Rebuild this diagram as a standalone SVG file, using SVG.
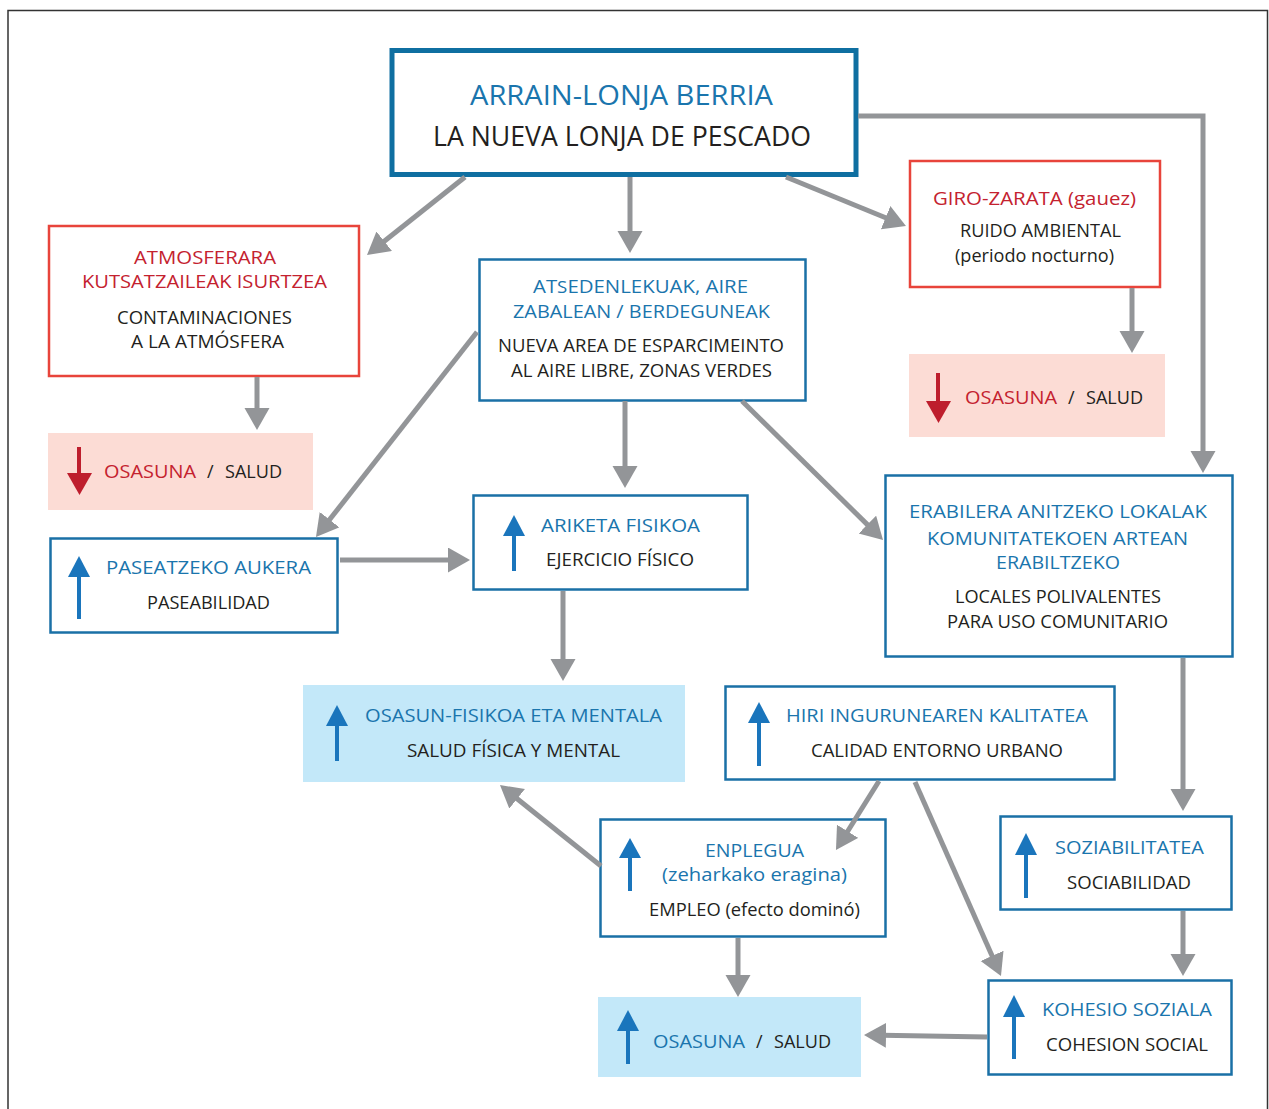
<svg xmlns="http://www.w3.org/2000/svg" width="1269" height="1109" viewBox="0 0 1269 1109">
<defs>
<style>
text{font-family:"Open Sans","Noto Sans","Liberation Sans",sans-serif;font-size:18px;}
.b{fill:#1a75ad;}
.r{fill:#c4222f;}
.k{fill:#231f20;}
.m{text-anchor:middle;}
.bx{fill:#fff;stroke:#1a70a6;stroke-width:2.5;}
.rx{fill:#fff;stroke:#e8443b;stroke-width:2.5;}
.lb{fill:#c3e8f9;}
.pk{fill:#fcdcd5;}
.con{fill:none;stroke:#939598;stroke-width:5;marker-end:url(#ah);}
.ua{fill:#1a75bc;}
.ual{stroke:#1a75bc;stroke-width:4;}
.da{fill:#be1e2d;}
.dal{stroke:#be1e2d;stroke-width:4;}
</style>
<marker id="ah" markerUnits="userSpaceOnUse" markerWidth="24" markerHeight="26" refX="4" refY="12.5" orient="auto">
<path d="M0,0 L22,12.5 L0,25 z" fill="#939598"/>
</marker>
</defs>
<rect width="1269" height="1109" fill="#fff"/>
<path d="M8,1109 V10.5 H1267.5 V1109" fill="none" stroke="#333" stroke-width="1.5"/>

<g id="top">
<rect x="392" y="50.5" width="464" height="124" fill="#fff" stroke="#0f6fa1" stroke-width="5"/>
<text class="b m" x="621.5" y="105" style="font-size:28px" textLength="303" lengthAdjust="spacingAndGlyphs">ARRAIN-LONJA BERRIA</text>
<text class="k m" x="622" y="146" style="font-size:28px" textLength="378" lengthAdjust="spacingAndGlyphs">LA NUEVA LONJA DE PESCADO</text>
</g>

<g id="atmos">
<rect class="rx" x="49" y="226" width="310" height="150"/>
<text class="r m" x="205" y="264" textLength="142" lengthAdjust="spacingAndGlyphs">ATMOSFERARA</text>
<text class="r m" x="204.5" y="288" textLength="245" lengthAdjust="spacingAndGlyphs">KUTSATZAILEAK ISURTZEA</text>
<text class="k m" x="204.5" y="324" textLength="175" lengthAdjust="spacingAndGlyphs">CONTAMINACIONES</text>
<text class="k m" x="207.5" y="348" textLength="153" lengthAdjust="spacingAndGlyphs">A LA ATMÓSFERA</text>
</g>

<g id="salud1">
<rect class="pk" x="48" y="433" width="265" height="77"/>
<line class="dal" x1="79" y1="447" x2="79" y2="476"/>
<polygon class="da" points="67,473 92,473 79.5,495"/>
<text class="r" x="104" y="478" textLength="92" lengthAdjust="spacingAndGlyphs">OSASUNA</text>
<text class="k" x="207" y="478">/</text>
<text class="k" x="225" y="478" textLength="57" lengthAdjust="spacingAndGlyphs">SALUD</text>
</g>

<g id="giro">
<rect class="rx" x="910" y="161" width="250" height="126"/>
<text class="r m" x="1034.5" y="205" textLength="203" lengthAdjust="spacingAndGlyphs">GIRO-ZARATA (gauez)</text>
<text class="k m" x="1040.5" y="237" textLength="161" lengthAdjust="spacingAndGlyphs">RUIDO AMBIENTAL</text>
<text class="k m" x="1034.5" y="262" textLength="159" lengthAdjust="spacingAndGlyphs">(periodo nocturno)</text>
</g>

<g id="salud2">
<rect class="pk" x="909" y="354" width="256" height="83"/>
<line class="dal" x1="938" y1="373" x2="938" y2="404"/>
<polygon class="da" points="926,401 951,401 938.5,423"/>
<text class="r" x="965" y="404" textLength="92" lengthAdjust="spacingAndGlyphs">OSASUNA</text>
<text class="k" x="1068" y="404">/</text>
<text class="k" x="1086" y="404" textLength="57" lengthAdjust="spacingAndGlyphs">SALUD</text>
</g>

<g id="atsed">
<rect class="bx" x="479.5" y="259.5" width="326" height="141"/>
<text class="b m" x="640.5" y="293" textLength="215" lengthAdjust="spacingAndGlyphs">AT<tspan style="font-size:16.5px">S</tspan>EDENLEKUAK, AIRE</text>
<text class="b m" x="641.5" y="318" textLength="257" lengthAdjust="spacingAndGlyphs">ZABALEAN / BERDEGUNEAK</text>
<text class="k m" x="641" y="352" textLength="286" lengthAdjust="spacingAndGlyphs">NUEVA AREA DE ESPARCIMEINTO</text>
<text class="k m" x="641.5" y="377" textLength="261" lengthAdjust="spacingAndGlyphs">AL AIRE LIBRE, ZONAS VERDES</text>
</g>

<g id="pasea">
<rect class="bx" x="50.5" y="538.5" width="287" height="94"/>
<line class="ual" x1="79" y1="572" x2="79" y2="619"/>
<polygon class="ua" points="68,577 90,577 79,556"/>
<text class="b m" x="208.5" y="574" textLength="205" lengthAdjust="spacingAndGlyphs">PASEATZEKO AUKERA</text>
<text class="k m" x="208.5" y="609" textLength="123" lengthAdjust="spacingAndGlyphs">PASEABILIDAD</text>
</g>

<g id="ariketa">
<rect class="bx" x="473.5" y="495.5" width="274" height="94"/>
<line class="ual" x1="514" y1="530" x2="514" y2="571"/>
<polygon class="ua" points="503,536 525,536 514,515"/>
<text class="b m" x="620.5" y="532" textLength="159" lengthAdjust="spacingAndGlyphs">ARIKETA FISIKOA</text>
<text class="k m" x="620" y="566" textLength="148" lengthAdjust="spacingAndGlyphs">EJERCICIO FÍSICO</text>
</g>

<g id="erabilera">
<rect class="bx" x="885.5" y="475.5" width="347" height="181"/>
<text class="b m" x="1058" y="518" textLength="298" lengthAdjust="spacingAndGlyphs">ERABILERA ANITZEKO LOKALAK</text>
<text class="b m" x="1057.5" y="545" textLength="261" lengthAdjust="spacingAndGlyphs">KOMUNITATEKOEN ARTEAN</text>
<text class="b m" x="1058" y="569" textLength="124" lengthAdjust="spacingAndGlyphs">ERABILTZEKO</text>
<text class="k m" x="1058" y="603" textLength="206" lengthAdjust="spacingAndGlyphs">LOCALES POLIVALENTES</text>
<text class="k m" x="1057.5" y="628" textLength="221" lengthAdjust="spacingAndGlyphs">PARA USO COMUNITARIO</text>
</g>

<g id="osasunfis">
<rect class="lb" x="303" y="685" width="382" height="97"/>
<line class="ual" x1="337" y1="720" x2="337" y2="761"/>
<polygon class="ua" points="326,726 348,726 337,705"/>
<text class="b m" x="513.5" y="722" textLength="297" lengthAdjust="spacingAndGlyphs">OSASUN-FISIKOA ETA MENTALA</text>
<text class="k m" x="513.5" y="757" textLength="213" lengthAdjust="spacingAndGlyphs">SALUD FÍSICA Y MENTAL</text>
</g>

<g id="hiri">
<rect class="bx" x="725.5" y="686.5" width="389" height="93"/>
<line class="ual" x1="759" y1="718" x2="759" y2="766"/>
<polygon class="ua" points="748,723 770,723 759,702"/>
<text class="b m" x="937" y="722" textLength="302" lengthAdjust="spacingAndGlyphs">HIRI INGURUNEAREN KALITATEA</text>
<text class="k m" x="937" y="757" textLength="252" lengthAdjust="spacingAndGlyphs">CALIDAD ENTORNO URBANO</text>
</g>

<g id="enplegua">
<rect class="bx" x="600.5" y="819.5" width="285" height="117"/>
<line class="ual" x1="630" y1="852" x2="630" y2="891"/>
<polygon class="ua" points="619,858 641,858 630,838"/>
<text class="b m" x="754.5" y="857" textLength="99" lengthAdjust="spacingAndGlyphs">ENPLEGUA</text>
<text class="b m" x="754.5" y="881" textLength="185" lengthAdjust="spacingAndGlyphs">(zeharkako eragina)</text>
<text class="k m" x="754.5" y="916" textLength="211" lengthAdjust="spacingAndGlyphs">EMPLEO (efecto dominó)</text>
</g>

<g id="sozia">
<rect class="bx" x="1000.5" y="816.5" width="231" height="93"/>
<line class="ual" x1="1026" y1="850" x2="1026" y2="898"/>
<polygon class="ua" points="1015,855 1037,855 1026,833"/>
<text class="b m" x="1129.5" y="854" textLength="149" lengthAdjust="spacingAndGlyphs">SOZIABILITATEA</text>
<text class="k m" x="1129" y="889" textLength="124" lengthAdjust="spacingAndGlyphs">SOCIABILIDAD</text>
</g>

<g id="kohesio">
<rect class="bx" x="988.5" y="980.5" width="243" height="94"/>
<line class="ual" x1="1014" y1="1012" x2="1014" y2="1059"/>
<polygon class="ua" points="1003,1017 1025,1017 1014,995"/>
<text class="b m" x="1127" y="1016" textLength="170" lengthAdjust="spacingAndGlyphs">KOHESIO SOZIALA</text>
<text class="k m" x="1127" y="1051" textLength="162" lengthAdjust="spacingAndGlyphs">COHESION SOCIAL</text>
</g>

<g id="salud3">
<rect class="lb" x="598" y="997" width="263" height="80"/>
<line class="ual" x1="628" y1="1026" x2="628" y2="1064"/>
<polygon class="ua" points="617,1031 639,1031 628,1010"/>
<text class="b" x="653" y="1048" textLength="92" lengthAdjust="spacingAndGlyphs">OSASUNA</text>
<text class="k" x="756" y="1048">/</text>
<text class="k" x="774" y="1048" textLength="57" lengthAdjust="spacingAndGlyphs">SALUD</text>
</g>

<g id="connectors">
<path class="con" d="M465,177 L381.1,243.8"/>
<path class="con" d="M630,177 V235"/>
<path class="con" d="M786,177 L889.3,219.2"/>
<path class="con" d="M858,116 H1203 V455"/>
<path class="con" d="M257,377 V412"/>
<path class="con" d="M1132,288 V335"/>
<path class="con" d="M477,332 L327.1,522.8"/>
<path class="con" d="M625,401 V470"/>
<path class="con" d="M742,401 L870.2,527.4"/>
<path class="con" d="M340,560 H452"/>
<path class="con" d="M563,591 V663"/>
<path class="con" d="M1183,658 V793"/>
<path class="con" d="M879,781 L845.5,834.7"/>
<path class="con" d="M915,782 L993.7,959.5"/>
<path class="con" d="M601,866 L514,796.3"/>
<path class="con" d="M738,938 V979"/>
<path class="con" d="M1183,911 V958"/>
<path class="con" d="M987,1037 L882,1035.3"/>
</g>
</svg>
